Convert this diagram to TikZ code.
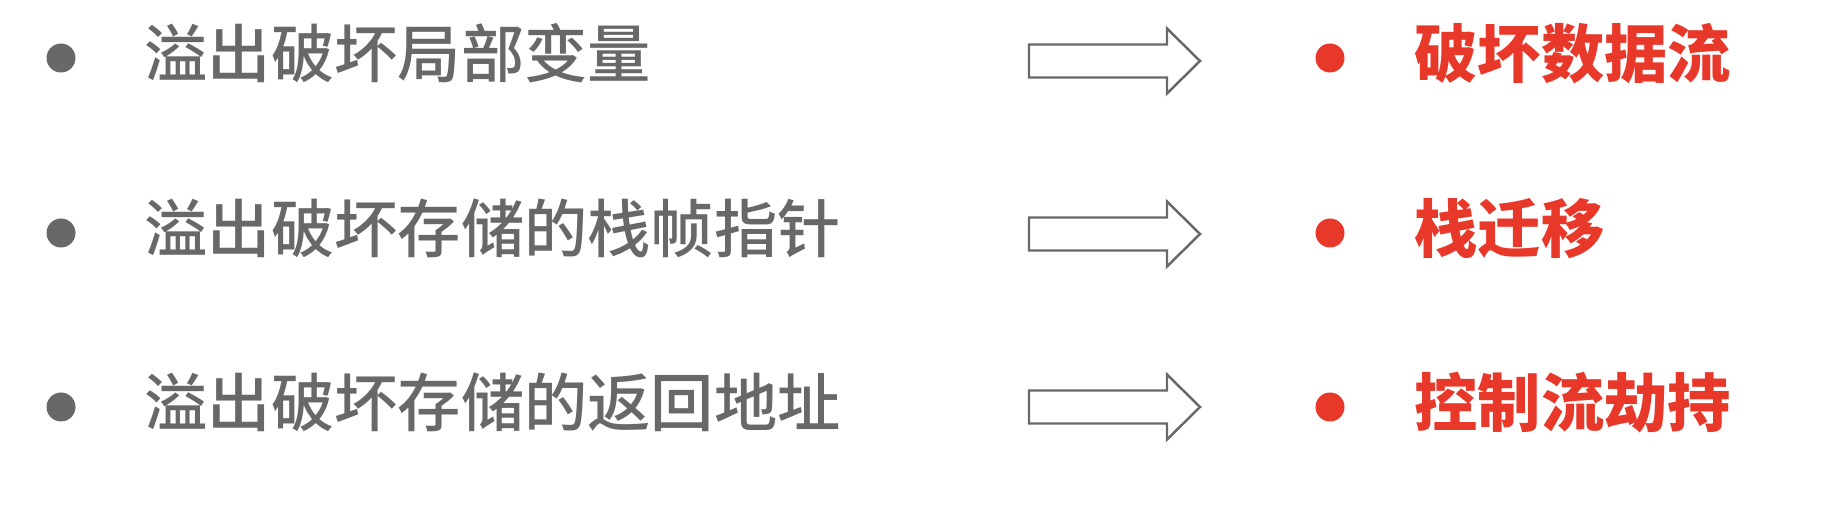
\documentclass[tikz,border=0pt]{standalone}
\usepackage{fontspec}
\newfontfamily\cjk{Noto Sans CJK SC}
\newfontfamily\cjkmed{Noto Sans CJK SC Medium}
\usetikzlibrary{positioning}
\definecolor{txtgray}{HTML}{686868}
\definecolor{hotred}{HTML}{E8382A}

\begin{document}
\begin{tikzpicture}[
    dot/.style={circle, fill=#1, inner sep=0pt, minimum size=0.29cm},
    lefttxt/.style={anchor=west, inner sep=0pt, font=\cjkmed\fontsize{18}{18}\selectfont, text=txtgray},
    righttxt/.style={anchor=west, inner sep=0pt, font=\cjk\bfseries\fontsize{18}{18}\selectfont, text=hotred},
    blockarr/.style={draw=txtgray, line width=0.7pt, fill=white}
]
\useasboundingbox (0,0) rectangle (18.30,5.08);

% left column
\node[dot=txtgray] (b1) at (0.61,4.50) {};
\node[dot=txtgray] (b2) at (0.61,2.75) {};
\node[dot=txtgray] (b3) at (0.61,1.01) {};
\node[lefttxt] (l1) at (1.44,4.55) {溢出破坏局部变量};
\node[lefttxt] (l2) at (1.44,2.80) {溢出破坏存储的栈帧指针};
\node[lefttxt] (l3) at (1.44,1.06) {溢出破坏存储的返回地址};

% arrows
\coordinate (a1) at (10.29,4.47);
\coordinate (a2) at (10.29,2.74);
\coordinate (a3) at (10.29,1.01);
\foreach \r in {a1,a2,a3}
    \draw[blockarr] (\r) ++(0,0.165) -- ++(1.38,0) -- ++(0,0.16) -- ++(0.33,-0.325)
        -- ++(-0.33,-0.325) -- ++(0,0.16) -- ++(-1.38,0) -- cycle;

% right column
\node[dot=hotred] (r1) at (13.30,4.50) {};
\node[dot=hotred] (r2) at (13.30,2.75) {};
\node[dot=hotred] (r3) at (13.30,1.01) {};
\node[righttxt] (t1) at (14.14,4.54) {破坏数据流};
\node[righttxt] (t2) at (14.14,2.79) {栈迁移};
\node[righttxt] (t3) at (14.14,1.05) {控制流劫持};
\end{tikzpicture}
\end{document}
